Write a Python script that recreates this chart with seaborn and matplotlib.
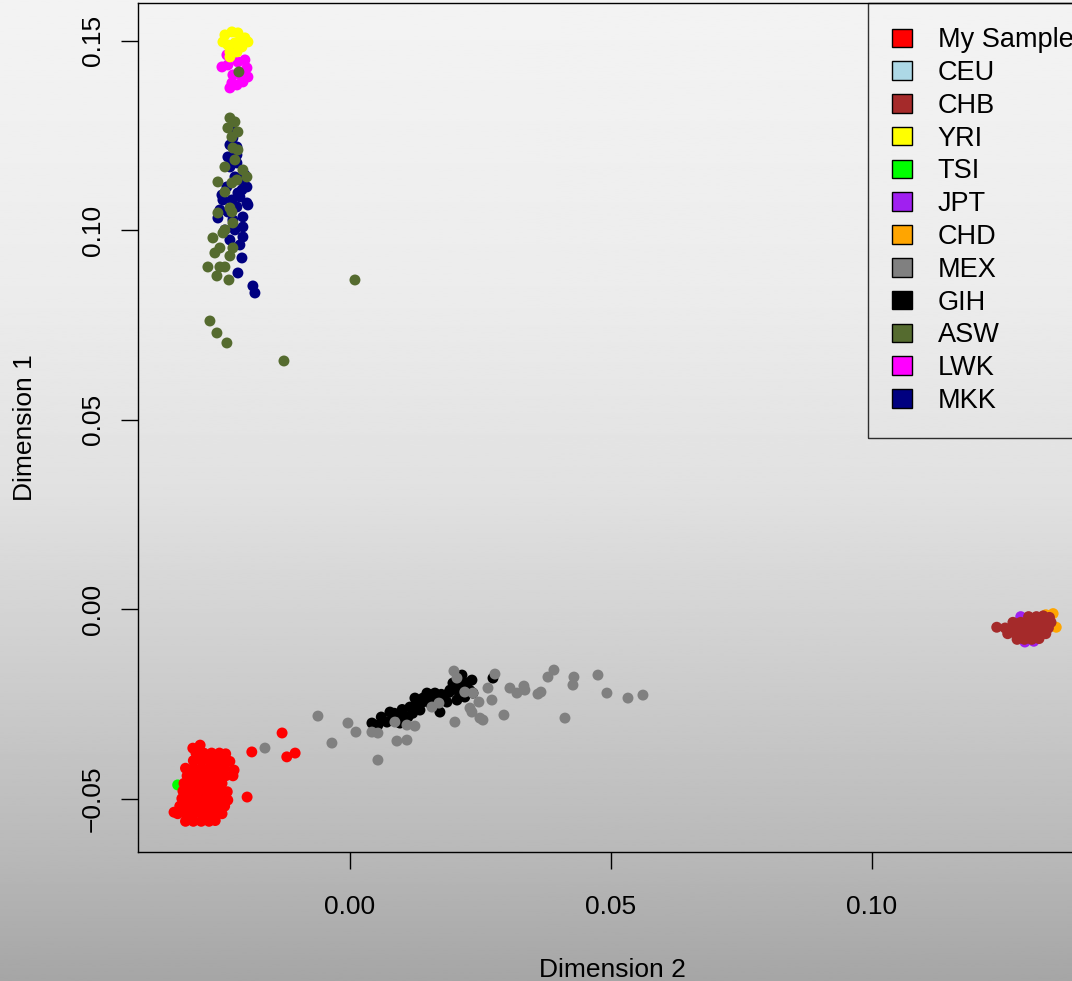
import numpy as np
import pandas as pd
import matplotlib
matplotlib.use("Agg")
import matplotlib.pyplot as plt
from matplotlib.patches import Patch
import seaborn as sns

# ---------------- data (Dimension 2 = x, Dimension 1 = y) ----------------
groups = ["My Sample", "CEU", "CHB", "YRI", "TSI", "JPT", "CHD", "MEX", "GIH", "ASW", "LWK", "MKK"]
group_colors = ["#FF0000", "#ADD8E6", "#A52A2A", "#FFFF00", "#00FF00", "#A020F0",
                "#FFA500", "#808080", "#000000", "#556B2F", "#FF00FF", "#000080"]

my_sample = [
    (-0.0301, -0.0367), (-0.0287, -0.0359),
    (-0.0295, -0.0380), (-0.0280, -0.0380), (-0.0265, -0.0380), (-0.0250, -0.0380), (-0.0238, -0.0382),
    (-0.0300, -0.0400), (-0.0285, -0.0400), (-0.0270, -0.0400), (-0.0255, -0.0400), (-0.0242, -0.0400), (-0.0230, -0.0402),
    (-0.0315, -0.0420), (-0.0300, -0.0420), (-0.0285, -0.0420), (-0.0270, -0.0420), (-0.0255, -0.0420), (-0.0240, -0.0420), (-0.0222, -0.0425),
    (-0.0312, -0.0440), (-0.0297, -0.0440), (-0.0282, -0.0440), (-0.0267, -0.0440), (-0.0252, -0.0440), (-0.0238, -0.0440), (-0.0224, -0.0440),
    (-0.0318, -0.0460), (-0.0303, -0.0460), (-0.0288, -0.0460), (-0.0273, -0.0460), (-0.0258, -0.0460), (-0.0245, -0.0460),
    (-0.0320, -0.0480), (-0.0305, -0.0480), (-0.0290, -0.0480), (-0.0275, -0.0480), (-0.0260, -0.0480), (-0.0247, -0.0480), (-0.0235, -0.0482),
    (-0.0322, -0.0500), (-0.0307, -0.0500), (-0.0292, -0.0500), (-0.0277, -0.0500), (-0.0262, -0.0500), (-0.0250, -0.0500), (-0.0234, -0.0504),
    (-0.0326, -0.0520), (-0.0310, -0.0520), (-0.0295, -0.0520), (-0.0280, -0.0520), (-0.0265, -0.0520), (-0.0252, -0.0520), (-0.0240, -0.0520),
    (-0.0330, -0.0540), (-0.0315, -0.0540), (-0.0300, -0.0540), (-0.0285, -0.0540), (-0.0270, -0.0540), (-0.0256, -0.0540), (-0.0245, -0.0540),
    (-0.0315, -0.0560), (-0.0300, -0.0560), (-0.0285, -0.0560), (-0.0270, -0.0560), (-0.0258, -0.0558),
    (-0.0292, -0.0390), (-0.0262, -0.0410), (-0.0292, -0.0450), (-0.0265, -0.0470), (-0.0298, -0.0510),
    (-0.0270, -0.0530), (-0.0308, -0.0550), (-0.0248, -0.0430), (-0.0318, -0.0530), (-0.0278, -0.0550),
    (-0.0337, -0.0536), (-0.0130, -0.0327), (-0.0188, -0.0377), (-0.0121, -0.0390),
    (-0.0105, -0.0380), (-0.0197, -0.0496),
]
ceu = [(-0.0290, -0.0470), (-0.0275, -0.0500), (-0.0300, -0.0520), (-0.0265, -0.0450), (-0.0320, -0.0500)]
tsi = [(-0.0330, -0.0464), (-0.0255, -0.0477), (-0.0300, -0.0490), (-0.0280, -0.0430)]
chb = [
    (0.1239, -0.0048),
    (0.1300, -0.0020), (0.1315, -0.0020), (0.1328, -0.0018), (0.1340, -0.0022),
    (0.1270, -0.0035), (0.1285, -0.0035), (0.1300, -0.0035), (0.1315, -0.0035), (0.1330, -0.0035), (0.1343, -0.0035),
    (0.1255, -0.0050), (0.1268, -0.0050), (0.1282, -0.0050), (0.1296, -0.0050), (0.1310, -0.0050), (0.1324, -0.0050), (0.1338, -0.0050),
    (0.1260, -0.0065), (0.1275, -0.0065), (0.1290, -0.0065), (0.1305, -0.0065), (0.1320, -0.0065), (0.1333, -0.0065),
    (0.1278, -0.0080), (0.1292, -0.0080), (0.1306, -0.0080), (0.1320, -0.0078),
]
jpt = [(0.1293, -0.0087), (0.1310, -0.0085), (0.1285, -0.0020), (0.1300, -0.0060)]
chd = [(0.1333, -0.0015), (0.1347, -0.0012), (0.1353, -0.0048), (0.1340, -0.0030), (0.1310, -0.0045)]
yri = [
    (-0.02395, 0.15148), (-0.02261, 0.15227), (-0.02146, 0.15201), (-0.02012, 0.15069), (-0.01954, 0.14963),
    (-0.02433, 0.14963), (-0.02338, 0.14884), (-0.02203, 0.14937), (-0.02069, 0.14831), (-0.02299, 0.14699),
    (-0.02165, 0.14699), (-0.02299, 0.14567), (-0.02069, 0.15016),
]
lwk = [
    (-0.02357, 0.14620), (-0.02452, 0.14303), (-0.02338, 0.14356), (-0.02146, 0.14435), (-0.02012, 0.14488),
    (-0.01973, 0.14277), (-0.01954, 0.14039), (-0.02069, 0.14039), (-0.02242, 0.14092), (-0.02261, 0.13881),
    (-0.02299, 0.13749), (-0.02165, 0.13828), (-0.02050, 0.13907),
]
mkk = [
    (-0.02069, 0.09263), (-0.02146, 0.08867), (-0.01859, 0.08524), (-0.01820, 0.08339), (-0.02050, 0.09817),
    (-0.02050, 0.10081), (-0.01973, 0.10714), (-0.02069, 0.11057), (-0.02165, 0.11770), (-0.02165, 0.12192),
    (-0.02242, 0.12430), (-0.02433, 0.10793), (-0.02491, 0.10529), (-0.02529, 0.10318), (-0.02395, 0.10002),
    (-0.02050, 0.10345), (-0.02242, 0.10266), (-0.02165, 0.10609), (-0.02146, 0.10978), (-0.02203, 0.11401),
    (-0.02357, 0.11137), (-0.02299, 0.11664), (-0.02338, 0.11928), (-0.02108, 0.11321), (-0.01973, 0.11137),
    (-0.02108, 0.10873), (-0.01954, 0.10661), (-0.02242, 0.12641), (-0.02165, 0.11981), (-0.02299, 0.12245),
    (-0.02012, 0.11453), (-0.02452, 0.10925), (-0.02338, 0.10476), (-0.02203, 0.10002), (-0.02108, 0.09606),
    (-0.02299, 0.09738), (-0.02261, 0.10793),
]
asw = [
    (-0.02299, 0.12957), (-0.02203, 0.12852), (-0.02338, 0.12694), (-0.02146, 0.12588), (-0.02261, 0.12456),
    (-0.02242, 0.12166), (-0.02146, 0.12113), (-0.02203, 0.11849), (-0.02395, 0.11664), (-0.02050, 0.11585),
    (-0.01973, 0.11401), (-0.02529, 0.11269), (-0.02261, 0.11242), (-0.02165, 0.11321), (-0.02395, 0.11004),
    (-0.02299, 0.10582), (-0.02261, 0.10477), (-0.02529, 0.10450), (-0.02242, 0.10187), (-0.02395, 0.10002),
    (-0.02433, 0.09923), (-0.02625, 0.09791), (-0.02491, 0.09527), (-0.02242, 0.09527), (-0.02587, 0.09395),
    (-0.02299, 0.09316), (-0.02721, 0.09025), (-0.02491, 0.09025), (-0.02395, 0.09025), (-0.02548, 0.08788),
    (-0.02318, 0.08682), (-0.02682, 0.07600), (-0.02548, 0.07284), (-0.02357, 0.07020), (-0.01264, 0.06545),
    (0.00096, 0.08682), (-0.02127, 0.14171),
]
gih = [
    (0.00421, -0.03008), (0.00766, -0.02718), (0.00805, -0.02929), (0.01015, -0.02797), (0.01149, -0.02586),
    (0.01245, -0.02349), (0.01398, -0.02349), (0.01341, -0.02665), (0.01628, -0.02217), (0.01724, -0.02718),
    (0.01782, -0.02322), (0.01916, -0.02138), (0.01973, -0.01953), (0.02146, -0.01742), (0.02107, -0.02217),
    (0.02241, -0.02058), (0.02337, -0.01874), (0.02356, -0.02217), (0.02050, -0.02401), (0.01858, -0.02454),
    (0.01533, -0.02481), (0.01111, -0.02850), (0.00958, -0.03008), (0.00709, -0.02982), (0.00536, -0.03061),
    (0.02740, -0.01821), (0.01303, -0.02454), (0.01475, -0.02217), (0.02200, -0.02322),
    (0.0060, -0.0285), (0.0085, -0.0275), (0.0100, -0.0265), (0.0125, -0.0258), (0.0140, -0.0245),
    (0.0155, -0.0238), (0.0165, -0.0230), (0.0175, -0.0225), (0.0190, -0.0220), (0.0200, -0.0210),
    (0.0215, -0.0200), (0.0225, -0.0195), (0.0230, -0.0215), (0.0120, -0.0275), (0.0150, -0.0225),
    (0.0180, -0.0240), (0.0210, -0.0225),
]
mex = [
    (-0.00613, -0.02824), (-0.00345, -0.03536), (-0.00038, -0.03008), (0.00115, -0.03246), (0.00421, -0.03246),
    (0.00536, -0.03272), (0.00536, -0.03985), (0.00862, -0.02982), (0.00900, -0.03483), (0.01092, -0.03457),
    (0.01092, -0.03061), (0.01245, -0.03088), (0.01571, -0.02586), (0.01705, -0.02481), (0.02011, -0.02982),
    (0.01992, -0.01636), (0.02050, -0.01821), (0.02200, -0.02190), (0.02356, -0.02217), (0.02299, -0.02613),
    (0.02337, -0.02718), (0.02490, -0.02877), (0.02548, -0.02929), (0.02471, -0.02454), (0.02720, -0.02401),
    (0.02644, -0.02085), (0.02778, -0.01715), (0.02950, -0.02797), (0.03065, -0.02085), (0.03199, -0.02217),
    (0.03333, -0.02032), (0.03352, -0.02138), (0.03602, -0.02243), (0.03659, -0.02190), (0.03793, -0.01795),
    (0.03908, -0.01610), (0.04119, -0.02877), (0.04291, -0.01795), (0.04272, -0.02006), (0.04751, -0.01742),
    (0.04923, -0.02217), (0.05326, -0.02349), (0.05613, -0.02270), (-0.01628, -0.03668),
]

series = {"My Sample": my_sample, "CEU": ceu, "CHB": chb, "YRI": yri, "TSI": tsi, "JPT": jpt,
          "CHD": chd, "MEX": mex, "GIH": gih, "ASW": asw, "LWK": lwk, "MKK": mkk}
draw_order = ["CEU", "TSI", "JPT", "CHD", "CHB", "LWK", "YRI", "MKK", "ASW", "GIH", "MEX", "My Sample"]

rows = []
for g in draw_order:
    for (x, y) in series[g]:
        rows.append({"dim2": x, "dim1": y, "pop": g})
df = pd.DataFrame(rows)

# ---------------- figure ----------------
W, H = 1072, 981
fig = plt.figure(figsize=(W / 100, H / 100), dpi=100)
plt.rcParams["font.family"] = ["Liberation Sans", "DejaVu Sans"]

# gradient background
bg = fig.add_axes([0, 0, 1, 1], zorder=-10)
ypos = np.linspace(0, 1, 400)
grad = np.interp(ypos, [0.0, 0.3, 0.5, 0.7, 0.87, 1.0], [0.953, 0.925, 0.882, 0.80, 0.725, 0.65])
bg.imshow(grad[:, None], aspect="auto", cmap="gray", vmin=0, vmax=1, extent=[0, 1, 1, 0])
bg.set_axis_off()

left_px, right_px, top_px, bot_px = 138, 1086, 3, 852
ax = fig.add_axes([left_px / W, (H - bot_px) / H, (right_px - left_px) / W, (bot_px - top_px) / H])
ax.set_facecolor("none")

palette = dict(zip(groups, group_colors))
sns.scatterplot(data=df, x="dim2", y="dim1", hue="pop", palette=palette, s=62,
                linewidth=0, legend=False, ax=ax)

ax.set_xlim(-0.0406, 0.1410)
ax.set_ylim(-0.0641, 0.1599)
ax.set_xticks([0.0, 0.05, 0.10])
ax.set_xticklabels(["0.00", "0.05", "0.10"])
ax.set_yticks([-0.05, 0.0, 0.05, 0.10, 0.15])
ax.set_yticklabels(["\u22120.05", "0.00", "0.05", "0.10", "0.15"])
ax.tick_params(axis="both", direction="out", length=12, width=1.0, labelsize=19, color="black")
ax.tick_params(axis="x", pad=19)
ax.tick_params(axis="y", pad=12, labelrotation=90)
for lab in ax.get_yticklabels():
    lab.set_va("center")
for sp in ax.spines.values():
    sp.set_linewidth(1.0)
    sp.set_color("black")

ax.set_xlabel("Dimension 2", fontsize=19)
ax.set_ylabel("Dimension 1", fontsize=19)
ax.xaxis.set_label_coords(0.5, -0.139)
ax.xaxis.label.set_va("center")
ax.yaxis.set_label_coords(-0.119, 0.5)
ax.yaxis.label.set_va("center")

handles = [Patch(facecolor=c, edgecolor="black", linewidth=1.0) for c in group_colors]
leg = fig.legend(handles, groups, loc="upper left", bbox_to_anchor=(868 / W, 1 - 3 / H),
                 bbox_transform=fig.transFigure, fontsize=19.5, frameon=True, fancybox=False,
                 borderpad=0.9, borderaxespad=0, handlelength=0.72, handleheight=0.68,
                 handletextpad=0.95, labelspacing=0.25)
leg.get_frame().set_edgecolor("black")
leg.get_frame().set_facecolor("none")
leg.get_frame().set_linewidth(1.0)

fig.savefig("out.png", dpi=100)
